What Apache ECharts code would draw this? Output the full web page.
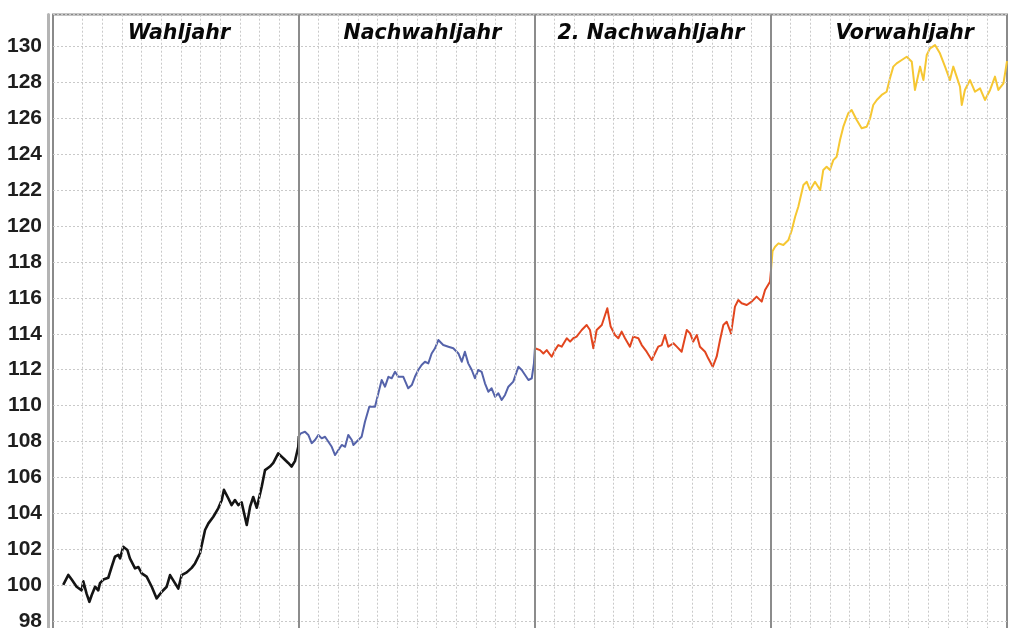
<!DOCTYPE html>
<html>
<head>
<meta charset="utf-8">
<script src="https://cdn.jsdelivr.net/npm/echarts@6/dist/echarts.min.js"></script>
<style>html,body{margin:0;padding:0;background:#fff;overflow:hidden}#c{width:1010px;height:657px}</style>
</head>
<body>
<div id="c"></div>
<script>
// Phase names (x in months since start of election year, y = index)
const phases = ['Wahljahr', 'Nachwahljahr', '2. Nachwahljahr', 'Vorwahljahr'];
const yTicks = [98,100,102,104,106,108,110,112,114,116,118,120,122,124,126,128,130];

const wahljahr = [
 [0.02,100.0],[0.28,100.56],[0.45,100.3],[0.70,99.9],[0.96,99.7],[1.04,100.2],[1.21,99.5],[1.35,99.06],
 [1.47,99.44],[1.64,99.9],[1.80,99.7],[1.89,100.1],[2.06,100.3],[2.31,100.4],[2.48,101.0],[2.65,101.57],
 [2.82,101.67],[2.91,101.48],[3.07,102.13],[3.28,101.95],[3.41,101.48],[3.67,100.92],[3.84,101.0],
 [4.01,100.64],[4.26,100.46],[4.52,99.9],[4.77,99.25],[5.03,99.62],[5.28,99.9],[5.45,100.55],[5.70,100.1],
 [5.87,99.8],[6.04,100.55],[6.30,100.7],[6.55,100.95],[6.72,101.2],[6.97,101.75],[7.23,103.06],[7.40,103.43],
 [7.65,103.8],[7.90,104.27],[8.08,104.73],[8.19,105.3],[8.41,104.83],[8.58,104.45],[8.75,104.73],[8.92,104.45],
 [9.09,104.6],[9.35,103.34],[9.52,104.36],[9.68,104.9],[9.86,104.3],[10.11,105.47],[10.28,106.4],[10.53,106.6],
 [10.70,106.8],[10.95,107.33],[11.21,107.06],[11.46,106.8],[11.63,106.6],[11.80,106.9],[11.97,107.7],[12.0,108.3]
];
const nachwahljahr = [
 [12.0,108.3],[12.10,108.45],[12.31,108.54],[12.48,108.36],[12.65,107.9],[12.82,108.08],[12.99,108.36],[13.16,108.17],
 [13.33,108.26],[13.50,107.98],[13.67,107.7],[13.84,107.24],[14.01,107.52],[14.18,107.8],[14.35,107.7],[14.51,108.36],
 [14.69,108.08],[14.77,107.8],[15.02,108.08],[15.19,108.26],[15.36,109.1],[15.58,109.93],[15.87,109.93],[16.04,110.68],
 [16.21,111.42],[16.38,111.05],[16.55,111.6],[16.72,111.52],[16.89,111.88],[17.05,111.6],[17.31,111.6],[17.56,110.96],
 [17.74,111.14],[17.90,111.6],[18.07,111.98],[18.24,112.26],[18.41,112.44],[18.58,112.35],[18.75,112.9],[18.92,113.19],
 [19.09,113.65],[19.34,113.37],[19.60,113.28],[19.85,113.19],[20.11,112.9],[20.28,112.44],[20.44,113.0],[20.61,112.35],
 [20.79,111.98],[20.95,111.52],[21.12,111.98],[21.29,111.88],[21.46,111.24],[21.63,110.77],[21.80,110.96],[21.97,110.49],
 [22.14,110.68],[22.31,110.31],[22.48,110.59],[22.65,111.05],[22.90,111.33],[23.16,112.16],[23.33,111.98],[23.50,111.7],
 [23.67,111.42],[23.84,111.52],[23.95,112.35],[24.0,113.19]
];
const nachwahljahr2 = [
 [24.0,113.19],[24.26,113.09],[24.43,112.9],[24.60,113.09],[24.85,112.72],[25.02,113.09],[25.19,113.37],[25.36,113.28],
 [25.62,113.75],[25.79,113.56],[25.95,113.75],[26.12,113.84],[26.38,114.21],[26.63,114.49],[26.80,114.21],[26.97,113.19],
 [27.14,114.21],[27.40,114.49],[27.68,115.42],[27.85,114.4],[28.07,113.93],[28.24,113.75],[28.41,114.12],[28.58,113.75],
 [28.83,113.28],[29.00,113.84],[29.26,113.75],[29.43,113.37],[29.68,113.0],[29.94,112.54],[30.10,112.9],[30.27,113.28],
 [30.45,113.37],[30.61,113.93],[30.78,113.28],[31.04,113.47],[31.21,113.28],[31.46,113.0],[31.72,114.21],[31.89,114.02],
 [32.05,113.56],[32.23,113.93],[32.39,113.28],[32.65,113.0],[32.81,112.63],[33.04,112.16],[33.24,112.72],[33.41,113.65],
 [33.58,114.49],[33.75,114.67],[33.97,114.02],[34.17,115.51],[34.34,115.88],[34.51,115.7],[34.77,115.6],[35.02,115.79],
 [35.27,116.07],[35.53,115.79],[35.70,116.44],[35.95,116.9],[36.0,117.5]
];
const vorwahljahr = [
 [36.0,117.5],[36.08,118.6],[36.21,118.85],[36.38,119.04],[36.63,118.95],[36.89,119.23],[37.06,119.78],[37.23,120.52],
 [37.39,121.08],[37.65,122.29],[37.82,122.47],[37.99,122.01],[38.24,122.47],[38.50,122.01],[38.66,123.13],[38.83,123.31],
 [39.00,123.13],[39.17,123.68],[39.34,123.87],[39.51,124.8],[39.68,125.54],[39.93,126.29],[40.10,126.47],[40.36,125.91],
 [40.61,125.45],[40.87,125.54],[41.04,126.01],[41.20,126.75],[41.38,127.03],[41.63,127.31],[41.88,127.49],[42.05,128.24],
 [42.22,128.89],[42.39,129.07],[42.65,129.26],[42.90,129.44],[43.16,129.16],[43.32,127.59],[43.58,128.89],[43.75,128.14],
 [43.92,129.54],[44.09,129.91],[44.34,130.09],[44.59,129.63],[44.85,128.89],[45.10,128.14],[45.27,128.89],[45.44,128.33],
 [45.61,127.77],[45.70,126.75],[45.86,127.59],[46.12,128.14],[46.37,127.49],[46.63,127.68],[46.88,127.03],[47.14,127.59],
 [47.39,128.33],[47.56,127.59],[47.82,127.96],[48.0,129.2]
];

const colors = ['#141414', '#5563aa', '#e2461f', '#f6c732'];
const widths = [2.6, 2, 2, 2];
const seriesData = [wahljahr, nachwahljahr, nachwahljahr2, vorwahljahr];

// month grid lines and year separators (data positions on the month axis)
const monthLines = [];
for (let m = 1; m < 48; m++) if (m % 12 !== 0) monthLines.push(m);
const yearLines = [12, 24, 36];
const headerAt = [5.9, 18.28, 29.9, 42.8];
const headerY = 130.72;

const chart = echarts.init(document.getElementById('c'), null, {renderer: 'canvas'});

const series = seriesData.map((d, i) => ({
  type: 'line',
  data: d,
  showSymbol: false,
  symbol: 'none',
  z: 3,
  lineStyle: {color: colors[i], width: widths[i], join: 'round'},
  animation: false
}));

series.unshift({
  type: 'line',
  data: [[0, 100]],
  symbol: 'none',
  lineStyle: {opacity: 0},
  z: 1,
  silent: true,
  animation: false,
  markLine: {
    silent: true,
    symbol: 'none',
    animation: false,
    label: {show: false},
    data: monthLines.map(m => ({xAxis: m, lineStyle: {color: '#c9c9c9', width: 1, type: [2, 2]}}))
      .concat(yearLines.map(m => ({xAxis: m, lineStyle: {color: '#8c8c8c', width: 2, type: 'solid'}})))
  }
});

chart.setOption({
  backgroundColor: '#ffffff',
  animation: false,
  grid: {
    left: 53, right: 3, top: 14.4, bottom: 0.3,
    show: true, borderColor: '#8a8a8a', borderWidth: 2, backgroundColor: 'transparent'
  },
  xAxis: {
    type: 'value', min: -0.5, max: 48,
    axisLine: {show: false}, axisTick: {show: false}, axisLabel: {show: false}, splitLine: {show: false}
  },
  yAxis: {
    type: 'value', min: 96, max: 131.8, interval: 2,
    offset: 5,
    axisLine: {show: true, onZero: false, lineStyle: {color: '#b4b4b4', width: 3}},
    axisTick: {show: false},
    axisLabel: {
      margin: 6,
      showMaxLabel: false,
      fontFamily: 'Liberation Sans, Arial, sans-serif',
      fontWeight: 'bold',
      fontSize: 21,
      color: '#1e1e1e',
      formatter: v => (yTicks.indexOf(v) >= 0 ? String(v) : '')
    },
    splitLine: {show: true, lineStyle: {color: '#c9c9c9', width: 1, type: [2, 2]}}
  },
  series: series
});

// phase headers, placed through the chart's own coordinate conversion
chart.setOption({
  graphic: phases.map((p, i) => {
    const pt = chart.convertToPixel({gridIndex: 0}, [headerAt[i], headerY]);
    return {
      type: 'text',
      x: pt[0], y: pt[1], z: 100,
      style: {
        text: p,
        fill: '#080808',
        font: 'italic bold 20.5px "DejaVu Sans"',
        align: 'center',
        verticalAlign: 'middle'
      }
    };
  })
});
</script>
</body>
</html>
